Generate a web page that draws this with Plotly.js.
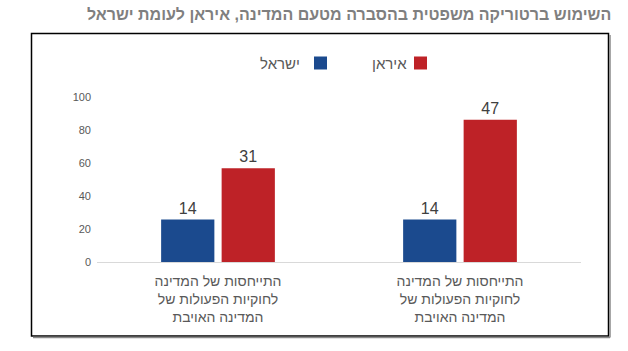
<!DOCTYPE html>
<html>
<head>
<meta charset="utf-8">
<script src="https://cdn.plot.ly/plotly-3.0.1.min.js"></script>
<style>
  html, body { margin: 0; padding: 0; background: #fff; }
  #chart { width: 628px; height: 351px; }
</style>
</head>
<body>
<div id="chart"></div>
<script>
// ---- data ----
const title = "השימוש ברטוריקה משפטית בהסברה מטעם המדינה, איראן לעומת ישראל";
const categories = [
  "התייחסות של המדינה<br>לחוקיות הפעולות של<br>המדינה האויבת",
  "התייחסות של המדינה<br>לחוקיות הפעולות של<br>המדינה האויבת"
];
const seriesNames = ["ישראל", "איראן"];
const israelValues = [14, 14];
const iranValues = [31, 47];
const yTickLabels = [0, 20, 40, 60, 80, 100];

// ---- style ----
const W = 628, H = 351;
const M = { l: 97, r: 47, t: 80, b: 89 };
const plotW = W - M.l - M.r, plotH = H - M.t - M.b;
const px = v => (v - M.l) / plotW;
const py = v => (H - M.b - v) / plotH;
const FONT = "Liberation Sans, Arial, DejaVu Sans, sans-serif";
const BLUE = "#1b4a8e", RED = "#be2227";
const axisScale = 1.835;           // printed axis units per data unit in the original chart
const yTop = 110.3 / axisScale;

const xIdx = categories.map((_, i) => i);

const traces = [
  { type: "bar", name: seriesNames[0], x: xIdx, y: israelValues,
    marker: { color: BLUE }, text: israelValues.map(String), textposition: "outside",
    textfont: { family: FONT, size: 16, color: "#404040" }, cliponaxis: false, hoverinfo: "none" },
  { type: "bar", name: seriesNames[1], x: xIdx, y: iranValues,
    marker: { color: RED }, text: iranValues.map(String), textposition: "outside",
    textfont: { family: FONT, size: 16, color: "#404040" }, cliponaxis: false, hoverinfo: "none" }
];

const shapes = [
  // frame
  { type: "rect", xref: "paper", yref: "paper", x0: px(31.5), x1: px(608.5), y0: py(336), y1: py(33.5),
    line: { color: "#000", width: 1.5 }, fillcolor: "rgba(0,0,0,0)", layer: "below" },
  { type: "line", xref: "paper", yref: "paper", x0: px(610), x1: px(610), y0: py(337.5), y1: py(35),
    line: { color: "#8a8a8a", width: 1.5 } },
  { type: "line", xref: "paper", yref: "paper", x0: px(33), x1: px(610), y0: py(337.5), y1: py(337.5),
    line: { color: "#8a8a8a", width: 1.5 } },
  // legend swatches
  { type: "rect", xref: "paper", yref: "paper", x0: px(314), x1: px(327), y0: py(69.5), y1: py(56.5),
    line: { width: 0 }, fillcolor: BLUE },
  { type: "rect", xref: "paper", yref: "paper", x0: px(414), x1: px(427), y0: py(69.5), y1: py(56.5),
    line: { width: 0 }, fillcolor: RED }
];

const annotations = [
  { text: "<b>" + title + "</b>", xref: "paper", yref: "paper", x: px(613), y: py(15),
    xanchor: "right", yanchor: "middle", showarrow: false,
    font: { family: FONT, size: 16, color: "#7f7f7f" } },
  { text: seriesNames[0], xref: "paper", yref: "paper", x: px(302), y: py(63),
    xanchor: "right", yanchor: "middle", showarrow: false,
    font: { family: FONT, size: 15, color: "#595959" } },
  { text: seriesNames[1], xref: "paper", yref: "paper", x: px(409), y: py(63),
    xanchor: "right", yanchor: "middle", showarrow: false,
    font: { family: FONT, size: 15, color: "#595959" } }
];

const layout = {
  width: W, height: H,
  margin: M,
  paper_bgcolor: "#fff", plot_bgcolor: "#fff",
  showlegend: false,
  barmode: "group",
  bargap: 0.5,
  bargroupgap: 0.12,
  font: { family: FONT, color: "#595959" },
  xaxis: {
    range: [-0.5, 1.5], tickmode: "array", tickvals: xIdx, ticktext: categories,
    showgrid: false, zeroline: false, showline: true, linecolor: "#d9d9d9", linewidth: 1,
    ticks: "", ticklabelstandoff: 6,
    tickfont: { family: FONT, size: 14, color: "#595959" }, fixedrange: true
  },
  yaxis: {
    range: [0, yTop], tickmode: "array",
    tickvals: yTickLabels.map(v => v / axisScale), ticktext: yTickLabels.map(String),
    showgrid: false, zeroline: false, showline: false, ticks: "", ticklabelstandoff: 5,
    tickfont: { family: FONT, size: 11, color: "#595959" }, fixedrange: true
  },
  shapes: shapes,
  annotations: annotations
};

Plotly.newPlot("chart", traces, layout, { displayModeBar: false, staticPlot: true });
</script>
</body>
</html>
